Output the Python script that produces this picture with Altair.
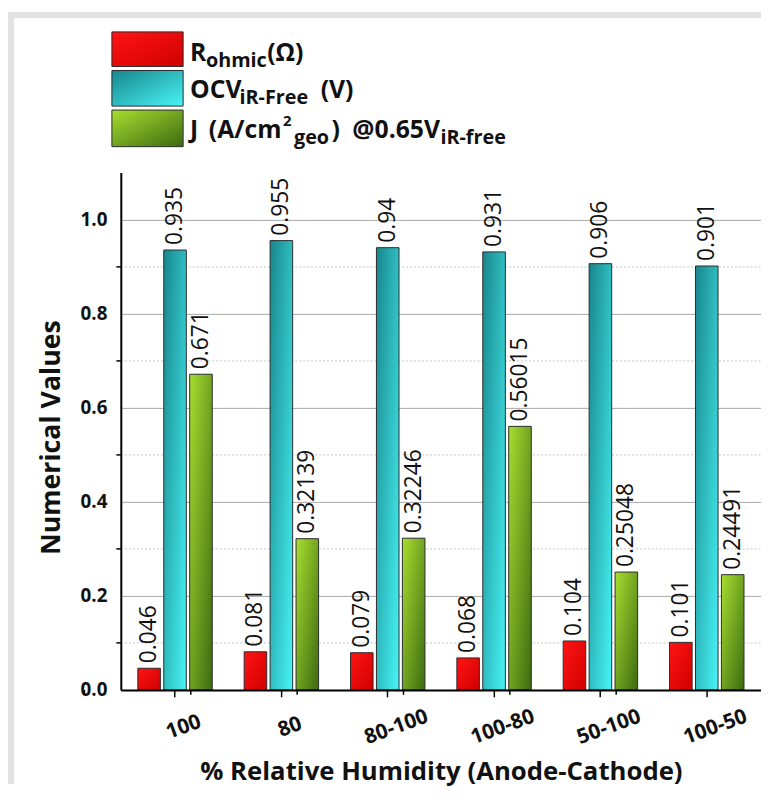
import altair as alt
import pandas as pd

# ---- data ----
categories = ["100", "80", "80-100", "100-80", "50-100", "100-50"]
series = ["R_ohmic", "OCV", "J"]
r_ohmic = [0.046, 0.081, 0.079, 0.068, 0.104, 0.101]
ocv_irfree = [0.935, 0.955, 0.94, 0.931, 0.906, 0.901]
j_current = [0.671, 0.32139, 0.32246, 0.56015, 0.25048, 0.24491]
y_ticks = [round(0.1 * i, 1) for i in range(11)]

rows = []
for s, vals in zip(series, [r_ohmic, ocv_irfree, j_current]):
    for c, v in zip(categories, vals):
        rows.append({"cat": c, "series": s, "value": v, "label": f"{v:g}"})
df = pd.DataFrame(rows)
cat_df = pd.DataFrame({"cat": categories})
one = pd.DataFrame({"k": [0]})

F = "Open Sans"
W, H = 647, 523
STEP = W / len(categories)

x_scale = alt.Scale(paddingInner=0.3, paddingOuter=0.16)
xoff = alt.XOffset("series:N", sort=series,
                   scale=alt.Scale(domain=series, paddingInner=0.13, paddingOuter=0))

x_axis = alt.Axis(
    title="% Relative Humidity (Anode-Cathode)",
    labelAngle=340, labelAlign="center", labelBaseline="top",
    labelOffset=5, labelPadding=20, labelFontSize=21, labelFont=F,
    labelFontWeight="bold", labelColor="#111",
    tickSize=7, tickWidth=1.5, tickColor="black",
    domainColor="black", domainWidth=2, grid=False, zindex=1,
    titleFont=F, titleFontSize=26, titleFontWeight="bold", titleColor="#111",
    titlePadding=11,
)
x_enc = alt.X("cat:N", sort=categories, scale=x_scale, axis=x_axis)

odd = "round(datum.value*10) % 2 == 1"
y_enc = alt.Y(
    "value:Q",
    scale=alt.Scale(domain=[0, 1.1], nice=False, zero=True),
    axis=alt.Axis(
        title="Numerical Values",
        values=y_ticks,
        labelExpr="round(datum.value*10) % 2 == 0 ? format(datum.value, '.1f') : ''",
        labelFontSize=19, labelFont=F, labelFontWeight="bold", labelColor="#111",
        labelPadding=14,
        tickSize={"condition": {"test": odd, "value": 5}, "value": 0},
        tickColor="black", tickWidth=1.5,
        domainColor="black", domainWidth=2,
        grid=True,
        gridColor={"condition": {"test": odd, "value": "#c4c4c4"}, "value": "#a8a8a8"},
        gridDash={"condition": {"test": odd, "value": [2, 2]}, "value": []},
        gridWidth=1,
        titleFont=F, titleFontSize=27, titleFontWeight="bold", titleColor="#111",
        titleX=-70, titleY=H / 2 + 6, titleAngle=270, titleBaseline="middle", titleAlign="center",
    ),
)


def grad(c0, c1):
    return alt.LinearGradient(
        gradient="linear",
        stops=[alt.GradientStop(color=c0, offset=0), alt.GradientStop(color=c1, offset=1)],
        x1=0, y1=0, x2=1, y2=1,
    )


fills = {
    "R_ohmic": grad("#ff1414", "#d00000"),
    "OCV": grad("#17868c", "#48f4f6"),
    "J": grad("#a8de30", "#3c6a10"),
}

# light grey window frame at left/top
frame_left = alt.Chart(one).mark_rect(color="#e2e2e2").encode(
    x=alt.value(-114), x2=alt.value(-108), y=alt.value(-162), y2=alt.value(H + 95))
frame_top = alt.Chart(one).mark_rect(color="#e2e2e2").encode(
    x=alt.value(-114), x2=alt.value(W), y=alt.value(-162), y2=alt.value(-156))

bars = []
for s in series:
    bars.append(
        alt.Chart(df).transform_filter(alt.datum.series == s)
        .mark_bar(color=fills[s], stroke="#2c2c2c", strokeWidth=1)
        .encode(x=x_enc, xOffset=xoff, y=y_enc)
    )

labels = alt.Chart(df).mark_text(
    angle=270, align="left", baseline="middle", dx=5,
    fontSize=23, font=F, color="#111"
).encode(x=x_enc, xOffset=xoff, y=y_enc, text="label:N")

# minor ticks between groups (half a step left of each category centre)
minor_ticks = alt.Chart(cat_df).mark_rule(color="black", strokeWidth=1.5).encode(
    x=x_enc, xOffset=alt.XOffsetValue(-STEP / 2),
    y=alt.value(H), y2=alt.value(H + 5))

# ---- custom legend with sub/superscripts ----
legend_layers = []
swatch_rows = [(-142, -107), (-103, -67), (-63, -26)]
for s, (y0, y1) in zip(series, swatch_rows):
    legend_layers.append(
        alt.Chart(one).mark_rect(color=fills[s], stroke="#2c2c2c", strokeWidth=1)
        .encode(x=alt.value(-9), x2=alt.value(63), y=alt.value(y0), y2=alt.value(y1))
    )


def txt(s, x, y, size):
    return alt.Chart(one).mark_text(
        text=s, align="left", baseline="alphabetic", fontSize=size,
        fontWeight="bold", font=F, color="#111"
    ).encode(x=alt.value(x), y=alt.value(y))


BIG, SMALL, SUP = 25, 20, 15
legend_layers += [
    txt("R", 70, -113, BIG), txt("ohmic", 86, -107, SMALL), txt("(Ω)", 148, -113, BIG),
    txt("OCV", 70, -75, BIG), txt("iR-Free", 120, -69, SMALL), txt("(V)", 202, -75, BIG),
    txt("J", 70, -35, BIG), txt("(A/cm", 89, -35, BIG), txt("2", 164, -47, SUP),
    txt("geo", 175, -29, SMALL), txt(")", 213, -35, BIG),
    txt("@0.65V", 234, -35, BIG), txt("iR-free", 323, -29, SMALL),
]

chart = alt.layer(
    frame_left, frame_top, *bars, labels, minor_ticks, *legend_layers
).properties(
    width=W, height=H,
    autosize=alt.AutoSizeParams(type="none"),
    padding={"left": 114, "top": 162, "right": 0, "bottom": 95},
).configure_view(stroke=None)

chart.save("out.html", embed_options={"renderer": "svg", "actions": False})
